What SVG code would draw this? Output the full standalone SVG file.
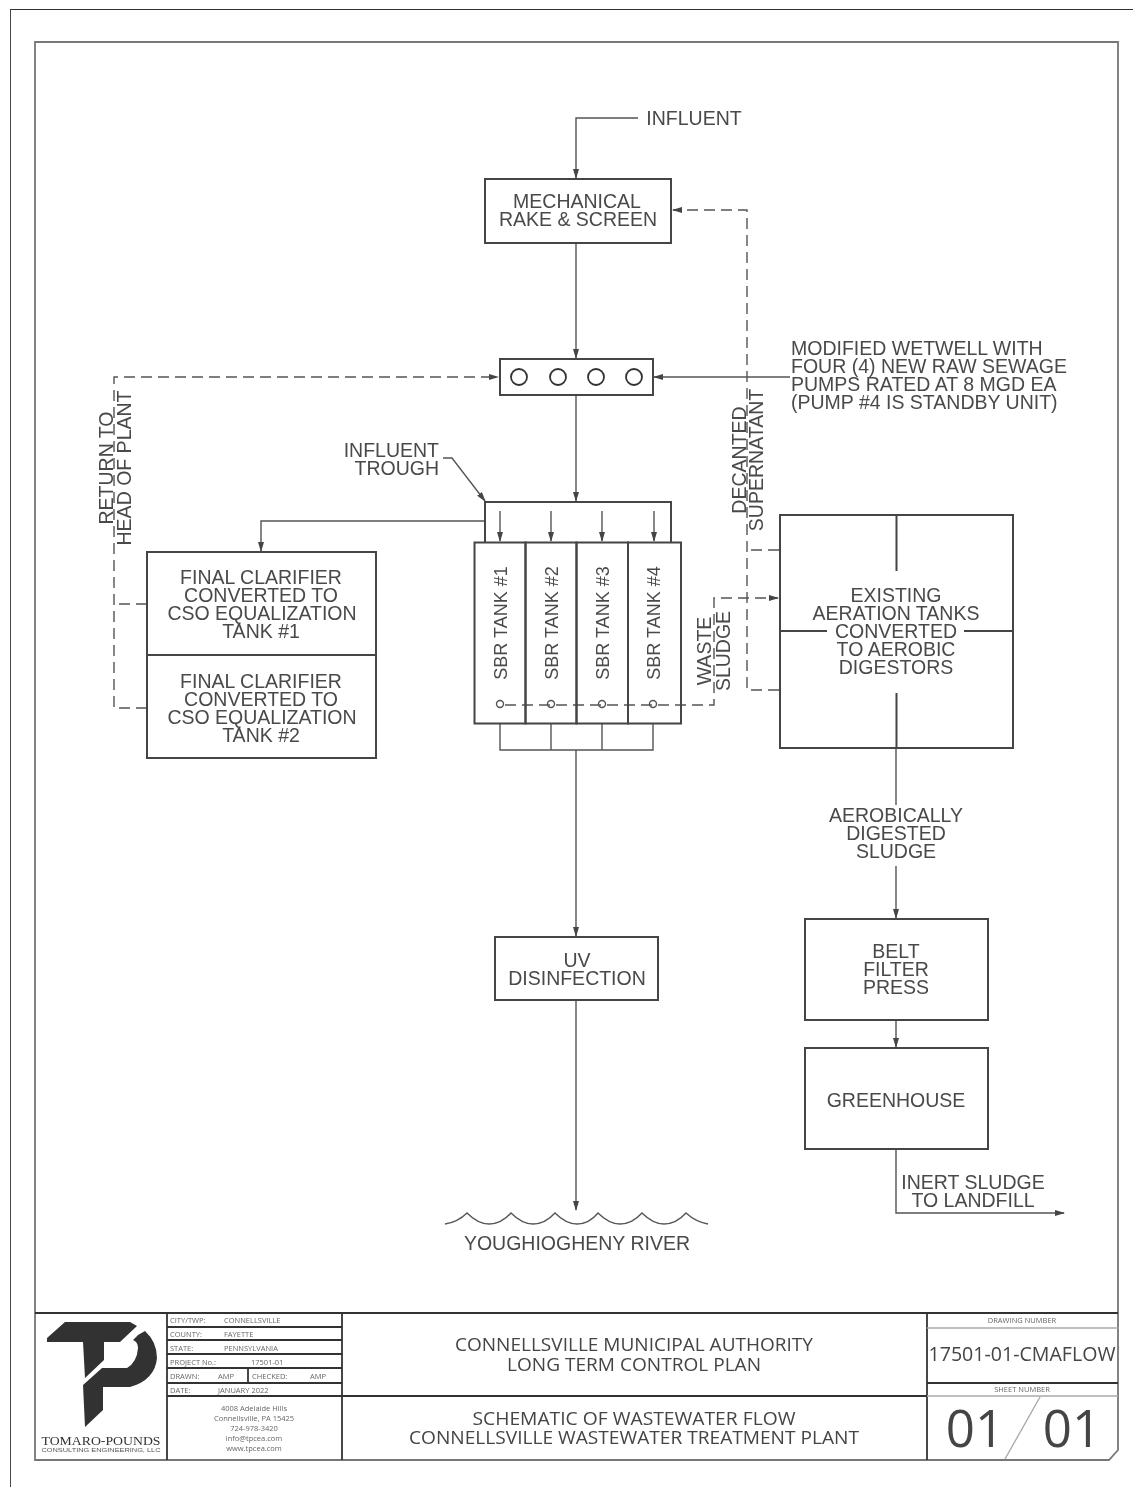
<svg xmlns="http://www.w3.org/2000/svg" width="1133" height="1487" viewBox="0 0 1133 1487">
<style>
.b{fill:#fff;stroke:#444;stroke-width:2}
.l{fill:none;stroke:#555;stroke-width:1.4}
.d{stroke-dasharray:11 6}
.a{marker-end:url(#ah)}
.t{font-family:"Liberation Sans",Arial,sans-serif;font-size:19.5px;fill:#4a4a4a;text-anchor:middle}
.s{font-size:18px}
.o{font-family:"Open Sans","Noto Sans",sans-serif;fill:#444;text-anchor:middle}
.m{font-size:18px}
.f{font-size:7.5px;fill:#666}
.fl{font-size:7.5px;fill:#666;text-anchor:start}
.h{fill:none;stroke:#333;stroke-width:1.8}
.g{fill:none;stroke:#aaa;stroke-width:1.4}
</style>
<defs>
<marker id="ah" markerWidth="10" markerHeight="6" refX="9" refY="3" orient="auto" markerUnits="userSpaceOnUse"><path d="M0 0L10 3L0 6Z" fill="#444"/></marker>
<filter id="bl" x="0" y="0" width="100%" height="100%"><feGaussianBlur stdDeviation="0.75"/></filter>
</defs>
<rect width="1133" height="1487" fill="#fff"/>
<g filter="url(#bl)">
<g id="sheet">
<path d="M10 1487V9H1133" fill="none" stroke="#333" stroke-width="1.8"/>
<path d="M35 42H1118V1450L1109 1460H35Z" fill="none" stroke="#777" stroke-width="1.8"/>
</g>
<g id="connectors">
<path class="l a" d="M638 118H576V178"/>
<path class="l a" d="M576 243V358"/>
<path class="l a" d="M576 395V501"/>
<path class="l a" d="M500 511V541"/>
<path class="l a" d="M551 511V541"/>
<path class="l a" d="M602 511V541"/>
<path class="l a" d="M654 511V541"/>
<path class="l a" d="M485 521H261V551"/>
<path class="l a" d="M790 377H654"/>
<path class="l d a" d="M147 604H114M147 708H114V377H498"/>
<path class="l d a" d="M779 550H747M779 690H747V210H673"/>
<path class="l d a" d="M505 705H714V598H778"/>
<path class="l" d="M500 723V750H653V723M551 723V750M602 723V750"/>
<path class="l a" d="M576 750V936"/>
<path class="l a" d="M576 1000V1210"/>
<path class="l" d="M896 748V805"/>
<path class="l a" d="M896 866V918"/>
<path class="l a" d="M896 1020V1047"/>
<path class="l a" d="M896 1149V1213H1064"/>
<path class="l a" d="M443 458H452L485 501"/>
</g>
<g id="influent"><text class="t" x="694" y="125">INFLUENT</text></g>
<g id="rake"><rect class="b" x="485" y="179" width="186" height="64"/><text class="t" x="577" y="208">MECHANICAL</text><text class="t" x="578" y="226">RAKE &amp; SCREEN</text></g>
<g id="wetwell"><rect class="b" x="500" y="359" width="153" height="36"/><g class="h"><circle cx="519" cy="377" r="8"/><circle cx="558" cy="377" r="8"/><circle cx="596" cy="377" r="8"/><circle cx="634" cy="377" r="8"/></g></g>
<g id="wetwell-note"><g class="t" style="text-anchor:start"><text x="791" y="355">MODIFIED WETWELL WITH</text><text x="791" y="373">FOUR (4) NEW RAW SEWAGE</text><text x="791" y="391">PUMPS RATED AT 8 MGD EA</text><text x="791" y="409">(PUMP #4 IS STANDBY UNIT)</text></g></g>
<g id="return-label"><text class="t" transform="translate(113 468) rotate(-90)">RETURN TO</text><text class="t" transform="translate(131 468) rotate(-90)">HEAD OF PLANT</text></g>
<g id="decanted-label"><text class="t" transform="translate(746 460) rotate(-90)">DECANTED</text><text class="t" transform="translate(763 460) rotate(-90)">SUPERNATANT</text></g>
<g id="trough-label"><text class="t" style="text-anchor:end" x="439" y="457">INFLUENT</text><text class="t" style="text-anchor:end" x="439" y="475">TROUGH</text></g>
<g id="trough"><path class="b" style="fill:none" d="M485 542V502H671V542"/></g>
<g id="clarifier-1"><rect class="b" x="147" y="552" width="229" height="103"/><text class="t" x="261" y="584">FINAL CLARIFIER</text><text class="t" x="261" y="602">CONVERTED TO</text><text class="t" x="262" y="620">CSO EQUALIZATION</text><text class="t" x="261" y="638">TANK #1</text></g>
<g id="clarifier-2"><rect class="b" x="147" y="655" width="229" height="103"/><text class="t" x="261" y="688">FINAL CLARIFIER</text><text class="t" x="261" y="706">CONVERTED TO</text><text class="t" x="262" y="724">CSO EQUALIZATION</text><text class="t" x="261" y="742">TANK #2</text></g>
<g id="sbr-1"><rect class="b" style="fill:none" x="474.500" y="542.500" width="51" height="181"/><text class="t s" transform="translate(507 623) rotate(-90)">SBR TANK #1</text><circle class="l" cx="500" cy="704" r="3.500"/></g>
<g id="sbr-2"><rect class="b" style="fill:none" x="525.500" y="542.500" width="51" height="181"/><text class="t s" transform="translate(558 623) rotate(-90)">SBR TANK #2</text><circle class="l" cx="551" cy="704" r="3.500"/></g>
<g id="sbr-3"><rect class="b" style="fill:none" x="576.500" y="542.500" width="51.500" height="181"/><text class="t s" transform="translate(609 623) rotate(-90)">SBR TANK #3</text><circle class="l" cx="602" cy="704" r="3.500"/></g>
<g id="sbr-4"><rect class="b" style="fill:none" x="628" y="542.500" width="53" height="181"/><text class="t s" transform="translate(660 623) rotate(-90)">SBR TANK #4</text><circle class="l" cx="653" cy="704" r="3.500"/></g>
<g id="waste-label"><text class="t" transform="translate(711 651) rotate(-90)">WASTE</text><text class="t" transform="translate(730 651) rotate(-90)">SLUDGE</text></g>
<g id="aeration"><rect class="b" x="780" y="515" width="233" height="233"/><path class="b" d="M896.500 515V571M896.500 693V748M780 631H827M964 631H1013"/><text class="t" x="896" y="602">EXISTING</text><text class="t" x="896" y="620">AERATION TANKS</text><text class="t" x="896" y="638">CONVERTED</text><text class="t" x="896" y="656">TO AEROBIC</text><text class="t" x="896" y="674">DIGESTORS</text></g>
<g id="digested-label"><text class="t" x="896" y="822">AEROBICALLY</text><text class="t" x="896" y="840">DIGESTED</text><text class="t" x="896" y="858">SLUDGE</text></g>
<g id="uv"><rect class="b" x="495" y="937" width="163" height="63"/><text class="t" x="577" y="967">UV</text><text class="t" x="577" y="985">DISINFECTION</text></g>
<g id="belt"><rect class="b" x="805" y="919" width="183" height="101"/><text class="t" x="896" y="958">BELT</text><text class="t" x="896" y="976">FILTER</text><text class="t" x="896" y="994">PRESS</text></g>
<g id="greenhouse"><rect class="b" x="805" y="1048" width="183" height="101"/><text class="t" x="896" y="1107">GREENHOUSE</text></g>
<g id="landfill-label"><text class="t" x="973" y="1189">INERT SLUDGE</text><text class="t" x="973" y="1207">TO LANDFILL</text></g>
<g id="river"><path class="l" d="M445 1224Q458 1222 467 1213Q478 1224 489 1224Q501 1224 511 1213Q522 1224 533 1224Q545 1224 555 1213Q566 1224 577 1224Q589 1224 598 1213Q609 1224 620 1224Q632 1224 642 1213Q653 1224 664 1224Q676 1224 686 1213Q696 1222 708 1224"/><text class="t" x="577" y="1250">YOUGHIOGHENY RIVER</text></g>
<g id="title-block">
<path class="h" d="M35 1313H1118M167 1313V1460M342 1313V1460M927 1313V1460M342 1396H927M167 1327H342M167 1340H342M167 1354H342M167 1368H342M167 1383H342M167 1396H342M248 1368V1383M927 1383H1118"/>
<path class="g" d="M927 1328H1118M927 1396H1118M1040 1397L1005 1459"/>
<path fill="#333" d="M47 1338L65 1322H130L137 1326L120 1342H104V1360L85 1378L83 1342H47Z"/>
<path fill="#333" d="M138 1335L145 1331Q157 1342 157 1358Q155 1380 130 1387H103V1410L85 1427L83 1385L102 1368H127Q137 1362 138 1348Q138 1342 133 1340Z"/>
<text x="101" y="1445" text-anchor="middle" font-family="Liberation Serif,serif" font-size="12.500" fill="#333" textLength="119" lengthAdjust="spacingAndGlyphs">TOMARO-POUNDS</text>
<text x="101" y="1452" text-anchor="middle" font-family="Liberation Sans,sans-serif" font-size="5.500" fill="#555" textLength="119" lengthAdjust="spacingAndGlyphs">CONSULTING ENGINEERING, LLC</text>
<g class="o">
<text class="fl" x="170" y="1323">CITY/TWP:</text><text class="fl" x="224" y="1323">CONNELLSVILLE</text>
<text class="fl" x="170" y="1337">COUNTY:</text><text class="fl" x="224" y="1337">FAYETTE</text>
<text class="fl" x="170" y="1351">STATE:</text><text class="fl" x="224" y="1351">PENNSYLVANIA</text>
<text class="fl" x="170" y="1365">PROJECT No.:</text><text class="fl" x="251" y="1365">17501-01</text>
<text class="fl" x="170" y="1379">DRAWN:</text><text class="fl" x="218" y="1379">AMP</text><text class="fl" x="252" y="1379">CHECKED:</text><text class="fl" x="310" y="1379">AMP</text>
<text class="fl" x="170" y="1393">DATE:</text><text class="fl" x="218" y="1393">JANUARY 2022</text>
<text class="f" x="254" y="1411">4008 Adelaide Hills</text><text class="f" x="254" y="1421">Connellsville, PA 15425</text><text class="f" x="254" y="1431">724-978-3420</text><text class="f" x="254" y="1441">info@tpcea.com</text><text class="f" x="254" y="1451">www.tpcea.com</text>
<text class="m" x="634" y="1351" textLength="358" lengthAdjust="spacingAndGlyphs">CONNELLSVILLE MUNICIPAL AUTHORITY</text>
<text class="m" x="634" y="1371" textLength="254" lengthAdjust="spacingAndGlyphs">LONG TERM CONTROL PLAN</text>
<text class="m" x="634" y="1425" textLength="323" lengthAdjust="spacingAndGlyphs">SCHEMATIC OF WASTEWATER FLOW</text>
<text class="m" x="634" y="1444" textLength="450" lengthAdjust="spacingAndGlyphs">CONNELLSVILLE WASTEWATER TREATMENT PLANT</text>
<text class="f" x="1022" y="1323">DRAWING NUMBER</text>
<text x="1022" y="1361" font-size="20" textLength="187" lengthAdjust="spacingAndGlyphs">17501-01-CMAFLOW</text>
<text class="f" x="1022" y="1392">SHEET NUMBER</text>
<text x="975" y="1447" font-size="51">01</text>
<text x="1072" y="1447" font-size="51">01</text>
</g>
</g>
</g>
</svg>
